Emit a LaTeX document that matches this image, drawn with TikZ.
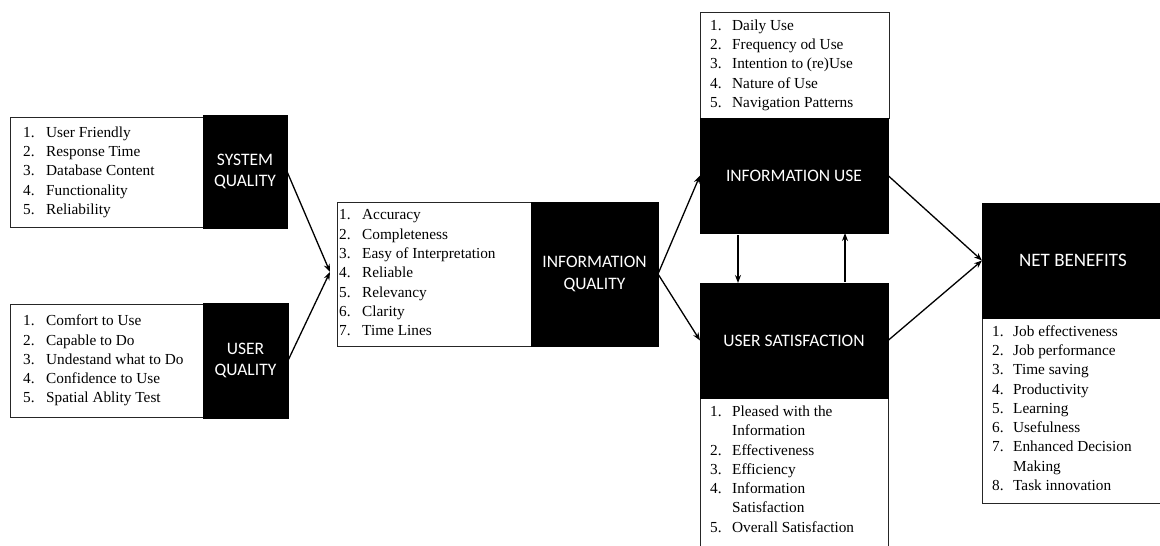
\documentclass[tikz,border=0pt]{standalone}
\usepackage{fontspec}
\setmainfont{Liberation Serif}
\newfontfamily\lfont{Liberation Serif}
\newfontfamily\cfont{Carlito}
\usetikzlibrary{arrows.meta}
\tikzset{
  lbox/.style={draw=black!85, line width=0.8pt, fill=white, inner sep=0pt, outer sep=0pt, anchor=north west},
  bbox/.style={draw=black, fill=black, text=white, inner sep=0pt, outer sep=0pt, anchor=north west, align=center, font=\cfont\fontsize{17.5}{21.5}\selectfont},
  ltext/.style={inner sep=0pt, anchor=west, font=\lfont\fontsize{15.3}{19.3}\selectfont},
  arr/.style={-{Stealth[length=8pt,width=6pt]}, line width=1.3pt}
}
\begin{document}
\begin{tikzpicture}[x=1pt,y=-1pt]
\useasboundingbox[fill=white] (0,0) rectangle (1160,546);
% System quality
\node[lbox, minimum width=193pt, minimum height=110pt] (sqlist) at (10,117) {};
\node[bbox, minimum width=84pt, minimum height=113pt] (sq) at (203,115) {SYSTEM\\QUALITY};
\node[ltext] (sqtext) at ([xshift=13pt]sqlist.west) {\begin{tabular}{@{}p{23pt}@{}l@{}}
1.&User Friendly\\ 2.&Response Time\\ 3.&Database Content\\ 4.&Functionality\\ 5.&Reliability\end{tabular}};
% User quality
\node[lbox, minimum width=193pt, minimum height=113pt] (uqlist) at (10,304) {};
\node[bbox, minimum width=85pt, minimum height=115pt] (uq) at (203,303) {USER\\QUALITY};
\node[ltext] (uqtext) at ([xshift=13pt]uqlist.west) {\begin{tabular}{@{}p{23pt}@{}l@{}}
1.&Comfort to Use\\ 2.&Capable to Do\\ 3.&Undestand what to Do\\ 4.&Confidence to Use\\ 5.&Spatial Ablity Test\end{tabular}};
% Information quality
\node[lbox, minimum width=321pt, minimum height=144pt] (iqlist) at (337,202) {};
\node[bbox, minimum width=127pt, minimum height=144pt] (iq) at (531,202) {INFORMATION\\QUALITY};
\node[ltext] (iqtext) at ([xshift=2pt]iqlist.west) {\begin{tabular}{@{}p{23pt}@{}l@{}}
1.&Accuracy\\ 2.&Completeness\\ 3.&Easy of Interpretation\\ 4.&Reliable\\ 5.&Relevancy\\ 6.&Clarity\\ 7.&Time Lines\end{tabular}};
% Information use
\node[lbox, minimum width=189pt, minimum height=106pt] (iulist) at (700,12) {};
\node[bbox, minimum width=188pt, minimum height=115pt] (iu) at (700,118) {INFORMATION USE};
\node[ltext] (iutext) at ([xshift=10pt]iulist.west) {\begin{tabular}{@{}p{22pt}@{}l@{}}
1.&Daily Use\\ 2.&Frequency od Use\\ 3.&Intention to (re)Use\\ 4.&Nature of Use\\ 5.&Navigation Patterns\end{tabular}};
% User satisfaction
\node[lbox, minimum width=188pt, minimum height=152pt] (uslist) at (700,396) {};
\node[bbox, minimum width=188pt, minimum height=115pt] (us) at (700,283) {USER SATISFACTION};
\node[ltext] (ustext) at ([xshift=10pt,yshift=1.5pt]uslist.west) {\begin{tabular}{@{}p{22pt}@{}l@{}}
1.&Pleased with the\\ &Information\\ 2.&Effectiveness\\ 3.&Efficiency\\ 4.&Information\\ &Satisfaction\\ 5.&Overall Satisfaction\end{tabular}};
% Net benefits
\node[lbox, minimum width=182pt, minimum height=187pt] (nblist) at (982,316) {};
\node[bbox, minimum width=182pt, minimum height=115pt, font=\cfont\fontsize{19}{23}\selectfont] (nb) at (982,203) {NET BENEFITS};
\node[ltext] (nbtext) at ([xshift=10pt]nblist.west) {\begin{tabular}{@{}p{21pt}@{}l@{}}
1.&Job effectiveness\\ 2.&Job performance\\ 3.&Time saving\\ 4.&Productivity\\ 5.&Learning\\ 6.&Usefulness\\ 7.&Enhanced Decision\\ &Making\\ 8.&Task innovation\end{tabular}};
% Connectors
\coordinate (meet) at ([xshift=-7pt,yshift=2pt]iqlist.west);
\draw[arr] (sq.east) -- (meet);
\draw[arr] (uq.east) -- (meet);
\draw[arr] (iq.east) -- (iu.west);
\draw[arr] (iq.east) -- (us.west);
\draw[arr] (iu.east) -- (nb.west);
\draw[arr] (us.east) -- (nb.west);
\draw[arr] ([xshift=38pt,yshift=-2pt]iu.south west) -- ([xshift=38pt]us.north west);
\draw[arr] ([xshift=145pt,yshift=1pt]us.north west) -- ([xshift=145pt]iu.south west);
\end{tikzpicture}
\end{document}
